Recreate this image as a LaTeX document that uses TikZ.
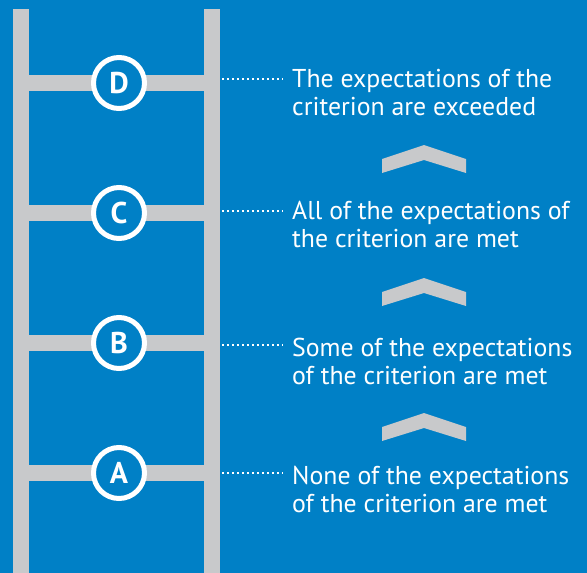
\documentclass[tikz,border=0pt]{standalone}
\usepackage{fontspec}
\setmainfont{PT Sans}
\definecolor{bg}{RGB}{0,128,198}
\definecolor{rail}{RGB}{200,201,203}

\begin{document}
\begin{tikzpicture}[x=1pt, y=-1pt,
  letter/.style={draw=white, line width=5pt, circle, fill=bg, minimum size=51pt,
    inner sep=0pt, text=white, font=\bfseries\fontsize{30}{30}\selectfont},
  dots/.style={white, line width=1.5pt, dash pattern=on 1.5pt off 3.5pt},
  label/.style={anchor=base west, align=left, inner sep=0pt, text=white,
    font=\fontsize{25.8}{28}\selectfont},
  chevron/.style={fill=rail}]
  \fill[bg] (0,0) rectangle (587,573);
  \useasboundingbox (0,0) rectangle (587,573);

  % rails and rungs
  \fill[rail] (13,9) rectangle (29,573);
  \fill[rail] (204,9) rectangle (220,573);
  \fill[rail] (29,75) rectangle (204,91);
  \fill[rail] (29,205) rectangle (204,221);
  \fill[rail] (29,335) rectangle (204,351);
  \fill[rail] (29,465) rectangle (204,481);

  \node[letter] (cD) at (119,83) {D};
  \node[letter] (cC) at (119,213) {C};
  \node[letter] (cB) at (119,343) {B};
  \node[letter] (cA) at (119,473) {A};

  \coordinate (dD) at (222,79);
  \coordinate (dC) at (222,211);
  \coordinate (dB) at (222,345);
  \coordinate (dA) at (222,473);
  \coordinate (eD) at (283,79);
  \coordinate (eC) at (283,211);
  \coordinate (eB) at (283,345);
  \coordinate (eA) at (283,473);

  % base anchor sits on the second line
  \node[label] (tD) at (292,115) {The expectations of the\\criterion are exceeded};
  \node[label] (tC) at (292,247) {All of the expectations of\\the criterion are met};
  \node[label] (tB) at (292,384) {Some of the expectations\\of the criterion are met};
  \node[label] (tA) at (292,512) {None of the expectations\\of the criterion are met};

  \draw[dots] (dD) -- (eD);
  \draw[dots] (dC) -- (eC);
  \draw[dots] (dB) -- (eB);
  \draw[dots] (dA) -- (eA);

  % chevrons between the levels
  \fill[chevron] (382,159) -- (424,145) -- (466,159) -- (466,173) -- (424,160) -- (382,173) -- cycle;
  \fill[chevron] (382,292) -- (424,278) -- (466,292) -- (466,306) -- (424,293) -- (382,306) -- cycle;
  \fill[chevron] (382,427) -- (424,413) -- (466,427) -- (466,441) -- (424,428) -- (382,441) -- cycle;
\end{tikzpicture}
\end{document}
